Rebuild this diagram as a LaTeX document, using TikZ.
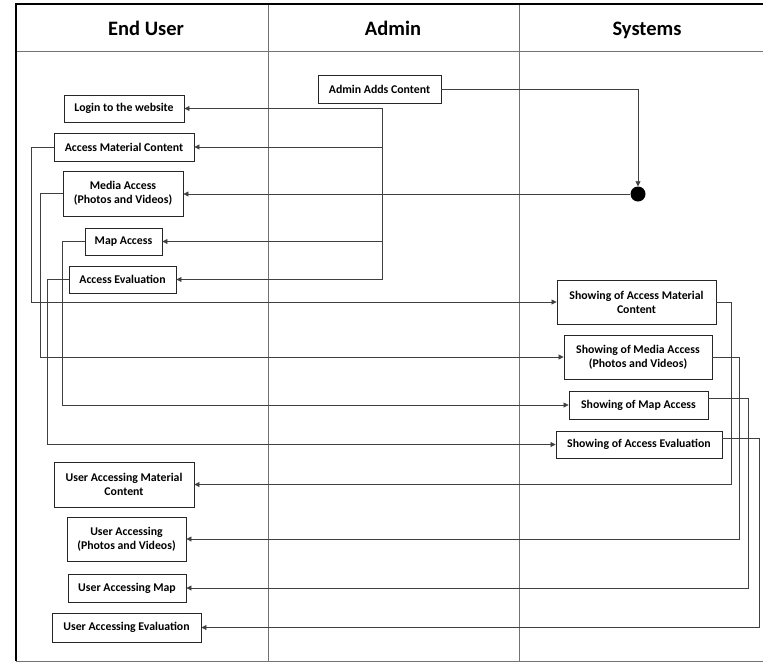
\documentclass[tikz,border=0pt]{standalone}
\usepackage{fontspec}
\setmainfont{Carlito}
\usetikzlibrary{arrows.meta}
\begin{document}
\begin{tikzpicture}[x=1pt,y=-1pt,
  box/.style={draw=black!85,line width=0.9pt,inner sep=0pt,align=center,font=\bfseries\fontsize{11.8}{14}\selectfont},
  conn/.style={draw=black!75,line width=0.8pt},
  arr/.style={conn,-{Triangle[length=5pt,width=5pt]}},
  frame/.style={draw=black!55,line width=0.8pt},
  hdr/.style={anchor=base,font=\bfseries\fontsize{20.5}{24}\selectfont}]
\useasboundingbox (0,0) rectangle (763,662);
% frame
\draw[frame] (16,51) -- (770,51);
\draw[frame] (16,661) -- (770,661);
\draw[frame] (268,4) -- (268,661);
\draw[frame] (519,4) -- (519,661);
\draw[black,line width=1.6pt] (770,4) -- (16,4) -- (16,661);
\node[hdr] (h1) at (146,35) {End User};
\node[hdr] (h2) at (393,35) {Admin};
\node[hdr] (h3) at (647,35) {Systems};
% end user boxes
\node[box,minimum width=120pt,minimum height=27pt] (login) at (124,108.5) {Login to the website};
\node[box,minimum width=140pt,minimum height=28pt] (amc) at (124,147) {Access Material Content};
\node[box,minimum width=120pt,minimum height=45pt] (media) at (123,193.5) {Media Access\\(Photos and Videos)};
\node[box,minimum width=77pt,minimum height=27pt] (map) at (123.5,241.5) {Map Access};
\node[box,minimum width=107pt,minimum height=27pt] (eval) at (122.5,279.5) {Access Evaluation};
% admin
\node[box,minimum width=123pt,minimum height=28pt] (admin) at (379.5,89) {Admin Adds Content};
% systems
\node[box,minimum width=159pt,minimum height=44pt] (samc) at (636.5,302) {Showing of Access Material\\Content};
\node[box,minimum width=148pt,minimum height=44pt] (smedia) at (638,357) {Showing of Media Access\\(Photos and Videos)};
\node[box,minimum width=139pt,minimum height=28pt] (smap) at (638.5,405) {Showing of Map Access};
\node[box,minimum width=166pt,minimum height=27pt] (seval) at (639,444.5) {Showing of Access Evaluation};
% user accessing
\node[box,minimum width=140pt,minimum height=45pt] (uamc) at (124,484.5) {User Accessing Material\\Content};
\node[box,minimum width=119pt,minimum height=44pt] (umedia) at (126.5,539) {User Accessing\\(Photos and Videos)};
\node[box,minimum width=118pt,minimum height=28pt] (umap) at (127,588) {User Accessing Map};
\node[box,minimum width=149pt,minimum height=29pt] (ueval) at (126.5,627.5) {User Accessing Evaluation};
% dot
\node[circle,fill=black,minimum size=15pt,inner sep=0pt] (dot) at (638,194) {};
\coordinate (bus) at (382,194);
% connectors
\draw[arr] (admin.east) -| (dot.north);
\draw[arr] (dot.west) -- (dot.west -| media.east);
\draw[arr] (bus) |- (login.east);
\draw[arr] (bus) |- (amc.east);
\draw[arr] (bus) |- (map.east);
\draw[arr] (bus) |- (eval.east);
\draw[arr] (amc.west) -- ++(-22,0) |- (samc.west);
\draw[arr] (media.west) -- ++(-22,0) |- (smedia.west);
\draw[arr] (map.west) -- ++(-22,0) |- (smap.west);
\draw[arr] (eval.west) -- ++(-21,0) |- (seval.west);
\draw[arr] (samc.east) -- ++(15,0) |- (uamc.east);
\draw[arr] (smedia.east) -- ++(27,0) |- (umedia.east);
\draw[arr] ([yshift=7pt]smap.east) -- ++(40,0) |- (umap.east);
\draw[arr] ([yshift=6pt]seval.east) -- ++(37,0) |- (ueval.east);
\end{tikzpicture}
\end{document}
